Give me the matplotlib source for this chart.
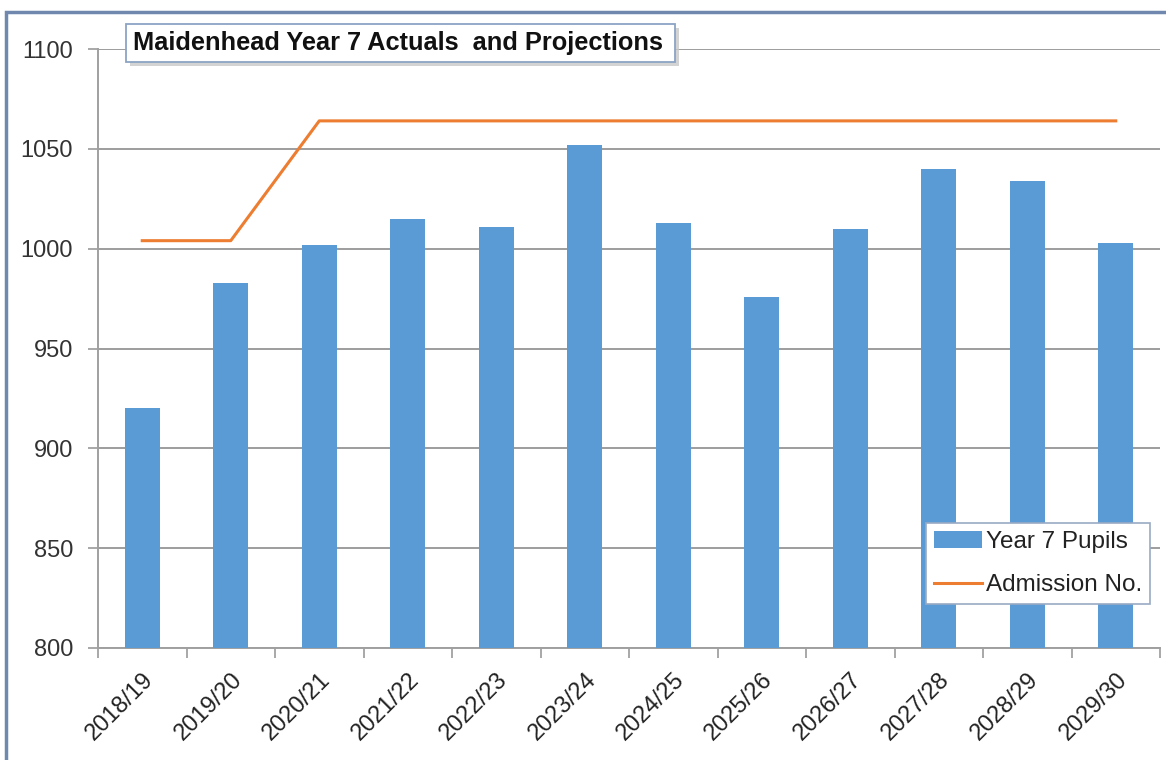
import matplotlib
matplotlib.use("Agg")
import matplotlib.pyplot as plt
from matplotlib.patches import Rectangle
import numpy as np

categories = ["2018/19", "2019/20", "2020/21", "2021/22", "2022/23", "2023/24",
              "2024/25", "2025/26", "2026/27", "2027/28", "2028/29", "2029/30"]
pupils = [920, 983, 1002, 1015, 1011, 1052, 1013, 976, 1010, 1040, 1034, 1003]
admission = [1004, 1004, 1064, 1064, 1064, 1064, 1064, 1064, 1064, 1064, 1064, 1064]
yticks = [800, 850, 900, 950, 1000, 1050, 1100]

plt.rcParams['font.family'] = ['Liberation Sans', 'DejaVu Sans']

W, H = 1166, 760
fig = plt.figure(figsize=(W / 100, H / 100), dpi=100)
fig.patch.set_facecolor("white")


def fx(px):
    return px / W


def fy(py):
    return 1 - py / H


# outer chart border (left and top edges visible)
fig.add_artist(Rectangle((fx(6), -0.1), 1.2, fy(12) + 0.1,
                         transform=fig.transFigure, fill=False,
                         edgecolor="#7088AE", linewidth=2.5, zorder=0))

ax = fig.add_axes([fx(98), fy(648), fx(1160) - fx(98), fy(49) - fy(648)])
x = np.arange(len(categories))
bars = ax.bar(x, pupils, width=0.39, color="#5B9BD5", label="Year 7 Pupils", zorder=3)
line, = ax.plot(x, admission, color="#ED7D31", linewidth=2.2, label="Admission No.", zorder=4)

ax.set_xlim(-0.5, len(categories) - 0.5)
ax.set_ylim(800, 1100)
ax.set_yticks(yticks)
ax.set_yticklabels([str(v) for v in yticks], fontsize=17, color="#333333")
ax.set_xticks(x)
ax.set_xticklabels(categories, rotation=45, ha="right", rotation_mode="anchor",
                   fontsize=17, color="#222222")
ax.tick_params(axis="x", length=0, pad=15)
ax.set_xticks(np.arange(-0.5, len(categories), 1.0), minor=True)
ax.tick_params(axis="x", which="minor", length=7, color="#999999", width=1.2)
ax.tick_params(axis="y", length=7, color="#999999", width=1.2, pad=11)

ax.yaxis.grid(True, color="#8C8C8C", linewidth=1.2, zorder=0)
ax.set_axisbelow(True)
for s in ["top", "right"]:
    ax.spines[s].set_visible(False)
for s in ["left", "bottom"]:
    ax.spines[s].set_color("#A0A0A0")
    ax.spines[s].set_linewidth(1.4)

leg = fig.legend([bars, line], ["Year 7 Pupils", "Admission No."],
                 loc="upper left", bbox_to_anchor=(fx(926), fy(523)), fontsize=17.5,
                 frameon=True, fancybox=False, borderpad=0.32, handlelength=2.0,
                 handletextpad=0.15, labelspacing=0.88, borderaxespad=0)
leg.get_frame().set_edgecolor("#9AAAC4")
leg.get_frame().set_linewidth(1.2)
leg.get_frame().set_alpha(1)
leg.set_zorder(10)
for t in leg.get_texts():
    t.set_color("#222222")

# title box with shadow
fig.add_artist(Rectangle((fx(130), fy(66)), fx(675) - fx(126), fy(24) - fy(62),
                         transform=fig.transFigure, facecolor="#C8C8C8",
                         edgecolor="none", alpha=0.8, zorder=9))
fig.add_artist(Rectangle((fx(126), fy(62)), fx(675) - fx(126), fy(24) - fy(62),
                         transform=fig.transFigure, facecolor="white",
                         edgecolor="#8CA4C4", linewidth=1.3, zorder=10))
fig.text(fx(133), fy(43), "Maidenhead Year 7 Actuals  and Projections",
         fontsize=18.3, fontweight="bold", color="#111111", va="center", ha="left",
         zorder=11)

fig.savefig("out.png", dpi=100, facecolor="white")
